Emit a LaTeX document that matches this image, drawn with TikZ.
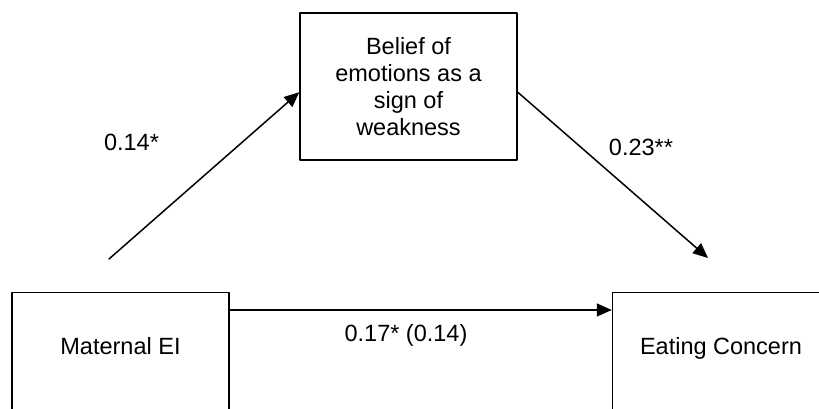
\documentclass[tikz,border=0pt]{standalone}
\usepackage{fontspec}
\setmainfont{Liberation Sans}
\usetikzlibrary{calc, arrows.meta}

\begin{document}
\begin{tikzpicture}[x=1pt, y=1pt, line cap=round, line join=round,
	box/.style={draw, line width=1.5pt, minimum width=217pt, inner sep=0pt, font=\fontsize{23.5}{27}\selectfont},
	lbl/.style={font=\fontsize{23.5}{27}\selectfont, inner sep=0pt},
	arr/.style={line width=1.5pt, -{Triangle[length=15pt, width=13pt]}}]
		\useasboundingbox (0,0) rectangle (819,409);
		\clip (0,0) rectangle (819,409);
		
		%Coordinates
		\coordinate (mstart) at (109,150);
		\coordinate (eend) at (708,151);
		
		%Boxes
		\node[box, minimum height=147pt, align=center] (belief) at (408.5,322.5) {Belief of\\emotions as a\\sign of\\weakness};
		\node[box, anchor=north, text height=62pt, text depth=90pt] (maternal) at (120.5,117) {Maternal EI};
		\node[box, anchor=north, text height=62pt, text depth=90pt] (eating) at (721,117) {Eating Concern};
		
		%Arrows
		\draw[arr] (mstart) -- (belief.183);
		\draw[arr] (belief.357) -- (eend);
		\draw[arr] ($(maternal.north east)+(0,-18)$) -- ($(eating.north west)+(0,-18)$);
		
		%Labels
		\node[lbl] (pathA) at (131.5,267) {0.14*};
		\node[lbl] (pathB) at (641,262) {0.23**};
		\node[lbl] (pathC) at (406,74) {0.17* (0.14)};
		
	\end{tikzpicture}
\end{document}
